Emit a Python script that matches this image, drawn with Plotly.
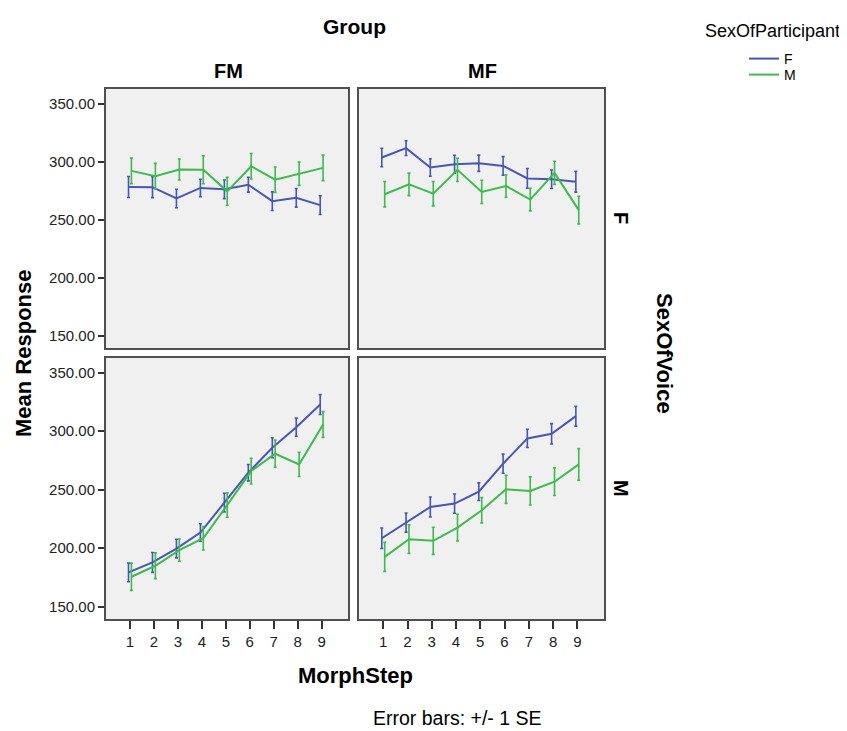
import plotly.graph_objects as go
from plotly.subplots import make_subplots

steps = [1, 2, 3, 4, 5, 6, 7, 8, 9]
groups = ["FM", "MF"]
voices = ["F", "M"]

# Mean responses (SexOfParticipant F / M) per panel (voice, group)
fm_voiceF_partF = [278.1, 278.0, 268.2, 277.3, 276.1, 280.1, 265.9, 268.8, 262.5]
fm_voiceF_partM = [292.0, 287.5, 293.2, 292.9, 274.4, 296.0, 284.4, 289.5, 294.6]
mf_voiceF_partF = [303.5, 311.6, 294.9, 297.7, 298.6, 296.3, 285.5, 284.8, 282.7]
mf_voiceF_partM = [271.9, 280.4, 272.4, 292.9, 273.9, 279.0, 267.3, 290.3, 258.2]
fm_voiceM_partF = [179.3, 187.8, 199.7, 213.4, 238.9, 264.5, 285.8, 303.4, 322.7]
fm_voiceM_partM = [175.6, 185.0, 198.3, 208.5, 236.9, 265.9, 280.7, 271.6, 305.7]
mf_voiceM_partF = [208.5, 221.9, 235.2, 238.1, 248.3, 272.2, 293.8, 297.7, 312.8]
mf_voiceM_partM = [192.6, 207.7, 206.3, 217.6, 232.4, 250.3, 248.9, 256.8, 271.6]

# Standard errors
fm_voiceF_partF_se = [9.0, 9.0, 8.0, 7.5, 8.0, 6.4, 8.0, 8.0, 8.0]
fm_voiceF_partM_se = [11.0, 11.0, 9.0, 12.0, 12.0, 11.0, 11.0, 10.0, 11.0]
mf_voiceF_partF_se = [8.0, 6.4, 7.5, 7.7, 7.0, 8.0, 8.5, 8.0, 9.0]
mf_voiceF_partM_se = [11.0, 9.7, 10.5, 10.0, 10.0, 9.7, 9.7, 10.0, 12.0]
fm_voiceM_partF_se = [8.0, 8.5, 8.0, 7.5, 8.0, 7.0, 8.5, 7.7, 8.5]
fm_voiceM_partM_se = [11.6, 11.0, 9.5, 10.0, 10.5, 11.0, 11.6, 10.4, 11.0]
mf_voiceM_partF_se = [8.8, 8.2, 8.5, 8.2, 7.5, 8.2, 7.8, 8.7, 8.5]
mf_voiceM_partM_se = [12.4, 12.2, 11.6, 11.4, 10.8, 12.0, 12.0, 11.8, 13.5]

y_ticks = [150, 200, 250, 300, 350]
y_ticklabels = ["150.00", "200.00", "250.00", "300.00", "350.00"]

panels = {
    (1, 1): (fm_voiceF_partF, fm_voiceF_partF_se, fm_voiceF_partM, fm_voiceF_partM_se),
    (1, 2): (mf_voiceF_partF, mf_voiceF_partF_se, mf_voiceF_partM, mf_voiceF_partM_se),
    (2, 1): (fm_voiceM_partF, fm_voiceM_partF_se, fm_voiceM_partM, fm_voiceM_partM_se),
    (2, 2): (mf_voiceM_partF, mf_voiceM_partF_se, mf_voiceM_partM, mf_voiceM_partM_se),
}

BLUE = "#4656B2"
GREEN = "#3DBB4C"
FONT = "Liberation Sans, Arial, sans-serif"

fig = make_subplots(rows=2, cols=2)

for (r, c), (fv, fse, mv, mse) in panels.items():
    first = (r, c) == (1, 1)
    fig.add_trace(go.Scatter(
        x=[s - 0.06 for s in steps], y=fv, mode="lines", name="F",
        line=dict(color=BLUE, width=2),
        error_y=dict(type="data", array=fse, visible=True, color=BLUE, thickness=1.6, width=1.5),
        showlegend=first, legend="legend"), row=r, col=c)
    fig.add_trace(go.Scatter(
        x=[s + 0.06 for s in steps], y=mv, mode="lines", name="M",
        line=dict(color=GREEN, width=2),
        error_y=dict(type="data", array=mse, visible=True, color=GREEN, thickness=1.6, width=1.5),
        showlegend=first, legend="legend2"), row=r, col=c)

# page is offset by the 8px body margin
OFF = 8
W, H = 847 - OFF, 731 - OFF


def px_x(v):
    return (v - OFF) / W


def px_y(v):
    return 1 - (v - OFF) / H


xdom = {1: [px_x(106), px_x(348)], 2: [px_x(359), px_x(604)]}
ydom = {1: [px_y(348), px_y(89)], 2: [px_y(619), px_y(358)]}

for r in (1, 2):
    for c in (1, 2):
        fig.update_xaxes(
            domain=xdom[c], range=[0, 10.1], showgrid=False, zeroline=False,
            showline=True, mirror=True, linecolor="#505050", linewidth=2,
            tickvals=steps, ticktext=[str(s) for s in steps],
            ticks="outside" if r == 2 else "", ticklen=8, tickcolor="#333333", tickwidth=1.5,
            showticklabels=(r == 2),
            tickfont=dict(family=FONT, size=15, color="#222222"),
            row=r, col=c)
        fig.update_yaxes(
            domain=ydom[r], range=[139.5, 362.5], showgrid=False, zeroline=False,
            showline=True, mirror=True, linecolor="#505050", linewidth=2,
            tickvals=y_ticks, ticktext=y_ticklabels,
            ticks="outside" if c == 1 else "", ticklen=6, tickcolor="#333333", tickwidth=1.5,
            showticklabels=(c == 1),
            tickfont=dict(family=FONT, size=15, color="#222222"),
            row=r, col=c)

annotations = [
    dict(text="<b>Group</b>", x=px_x(354), y=px_y(26), font=dict(size=21)),
    dict(text="<b>FM</b>", x=px_x(228), y=px_y(71), font=dict(size=20)),
    dict(text="<b>MF</b>", x=px_x(482), y=px_y(71), font=dict(size=20)),
    dict(text="<b>F</b>", x=px_x(621), y=px_y(218), font=dict(size=20), textangle=90),
    dict(text="<b>M</b>", x=px_x(621), y=px_y(488), font=dict(size=20), textangle=90),
    dict(text="<b>SexOfVoice</b>", x=px_x(665), y=px_y(353), font=dict(size=22), textangle=90),
    dict(text="<b>Mean Response</b>", x=px_x(23), y=px_y(353), font=dict(size=22), textangle=-90),
    dict(text="<b>MorphStep</b>", x=px_x(355), y=px_y(675), font=dict(size=22)),
    dict(text="Error bars: +/- 1 SE", x=px_x(457), y=px_y(718), font=dict(size=19.5)),
    dict(text="SexOfParticipant", x=px_x(772), y=px_y(31), font=dict(size=18)),
]
for a in annotations:
    a.update(xref="paper", yref="paper", showarrow=False, xanchor="center", yanchor="middle")
    a["font"].update(family=FONT, color="#000000")

leg_common = dict(xanchor="left", yanchor="top",
                  font=dict(family=FONT, size=14, color="#000000"),
                  bgcolor="rgba(0,0,0,0)", borderwidth=0, tracegroupgap=0)

fig.update_layout(
    width=W, height=H,
    margin=dict(l=0, r=0, t=0, b=0),
    paper_bgcolor="white", plot_bgcolor="#F0F0F0",
    annotations=annotations,
    legend=dict(x=px_x(744), y=px_y(43), **leg_common),
    legend2=dict(x=px_x(744), y=px_y(59), **leg_common),
    font=dict(family=FONT),
)

fig.write_html("out.html")
